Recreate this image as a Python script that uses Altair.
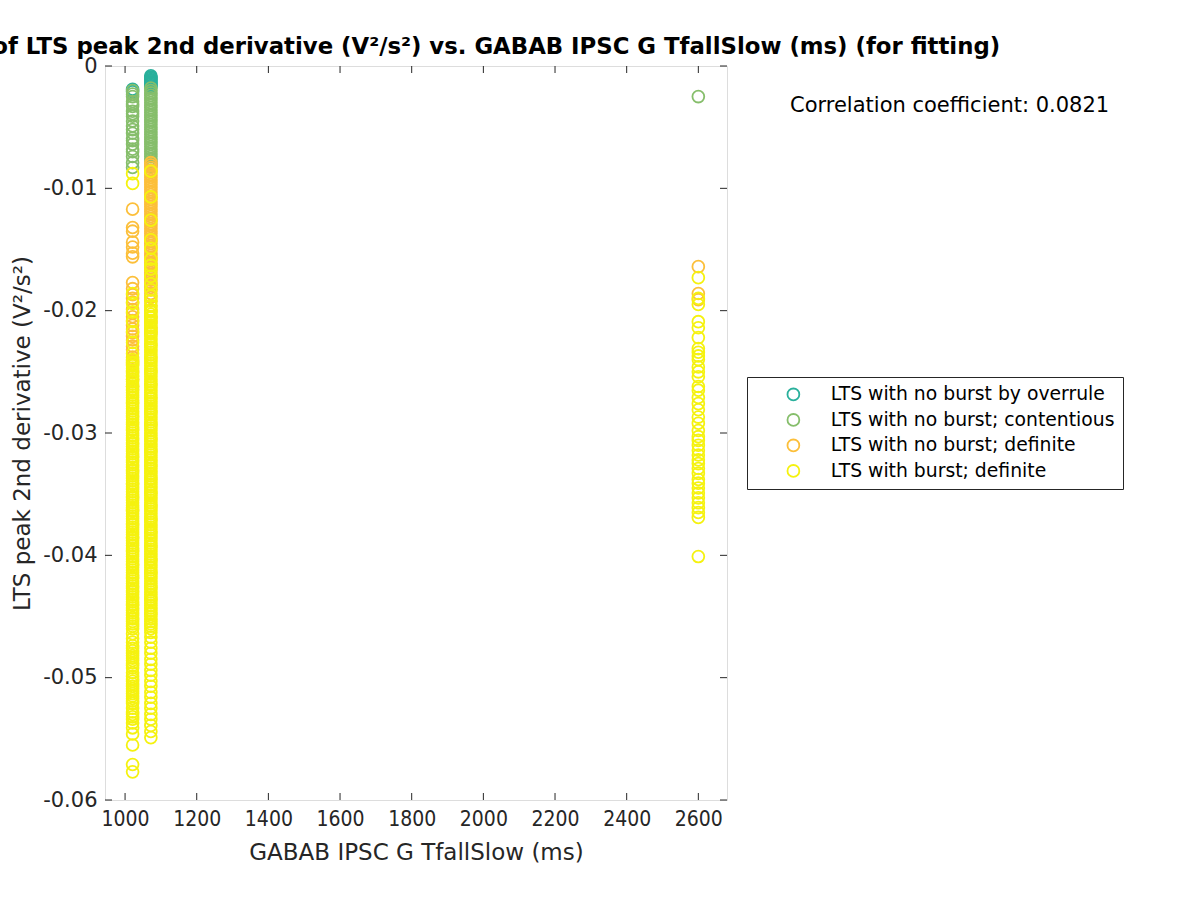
import altair as alt
import pandas as pd

# ---------------- data ----------------
series_names = [
    "LTS with no burst by overrule",
    "LTS with no burst; contentious",
    "LTS with no burst; definite",
    "LTS with burst; definite",
]
series_colors = ["#2ab09c", "#86be6b", "#fcbf3a", "#f5f20f"]

x_groups = [1021, 1072, 2600]

overrule_1021 = [-0.0019, -0.0021]
overrule_1072 = [-0.0008, -0.0009, -0.0010, -0.0011, -0.0012, -0.0013, -0.0014,
                 -0.0015, -0.0016, -0.0017]

contentious_1021 = [-0.0020, -0.0023, -0.0025, -0.0029, -0.0031, -0.0033, -0.0037,
                    -0.0039, -0.0041, -0.0045, -0.0049, -0.0052, -0.0055, -0.0059,
                    -0.0061, -0.0064, -0.0068, -0.0070, -0.0074, -0.0079, -0.0083]
contentious_1072 = [-0.0018, -0.0020, -0.0022, -0.0024, -0.0026, -0.0028, -0.0030,
                    -0.0032, -0.0034, -0.0036, -0.0038, -0.0040, -0.0042, -0.0044,
                    -0.0046, -0.0048, -0.0050, -0.0052, -0.0054, -0.0056, -0.0058,
                    -0.0060, -0.0062, -0.0064, -0.0066, -0.0068, -0.0070, -0.0072,
                    -0.0074, -0.0076, -0.0078, -0.0080, -0.0082]
contentious_2600 = [-0.0025]

nobursts_1021 = [-0.0117, -0.0132, -0.0135, -0.0144, -0.0148, -0.0153, -0.0156,
                 -0.0177, -0.0182, -0.0187, -0.0190, -0.0193, -0.0199, -0.0202,
                 -0.0205, -0.0208, -0.0212, -0.0215, -0.0218, -0.0221, -0.0224,
                 -0.0229, -0.0232, -0.0238, -0.0241, -0.0244, -0.0250, -0.0256,
                 -0.0262]
nobursts_1072 = [-0.0079, -0.0081, -0.0083, -0.0085, -0.0087, -0.0089, -0.0091, -0.0093,
                 -0.0095, -0.0097, -0.0099, -0.0101, -0.0103, -0.0105, -0.0107, -0.0109,
                 -0.0111, -0.0113, -0.0115, -0.0117, -0.0119, -0.0121, -0.0123, -0.0125,
                 -0.0127, -0.0129, -0.0131, -0.0133, -0.0135, -0.0137, -0.0139, -0.0141,
                 -0.0143, -0.0145, -0.0147, -0.0149, -0.0151, -0.0153, -0.0155, -0.0157,
                 -0.0159, -0.0161, -0.0163, -0.0165, -0.0167, -0.0169, -0.0171, -0.0173,
                 -0.0175, -0.0177, -0.0179, -0.0181, -0.0183, -0.0186, -0.0189, -0.0192,
                 -0.0196, -0.0200, -0.0205, -0.0209, -0.0214, -0.0218]
nobursts_2600 = [-0.0164, -0.0186, -0.0191]

burst_1021 = [-0.0088, -0.0096, -0.0186, -0.0194, -0.0201, -0.0209, -0.0217, -0.0226,
              -0.0235,
              -0.0240, -0.0242, -0.0243, -0.0245, -0.0247, -0.0249, -0.0251, -0.0253,
              -0.0254, -0.0256, -0.0258, -0.0260, -0.0262, -0.0264, -0.0265, -0.0267,
              -0.0269, -0.0271, -0.0273, -0.0275, -0.0276, -0.0278, -0.0280, -0.0282,
              -0.0284, -0.0286, -0.0287, -0.0289, -0.0291, -0.0293, -0.0295, -0.0297,
              -0.0298, -0.0300, -0.0302, -0.0304, -0.0306, -0.0308, -0.0309, -0.0311,
              -0.0313, -0.0315, -0.0317, -0.0319, -0.0320, -0.0322, -0.0324, -0.0326,
              -0.0328, -0.0330, -0.0331, -0.0333, -0.0335, -0.0337, -0.0339, -0.0341,
              -0.0342, -0.0344, -0.0346, -0.0348, -0.0350, -0.0352, -0.0353, -0.0355,
              -0.0357, -0.0359, -0.0361, -0.0363, -0.0364, -0.0366, -0.0368, -0.0370,
              -0.0372, -0.0374, -0.0375, -0.0377, -0.0379, -0.0381, -0.0383, -0.0385,
              -0.0386, -0.0388, -0.0390, -0.0392, -0.0394, -0.0396, -0.0397, -0.0399,
              -0.0401, -0.0403, -0.0405, -0.0407, -0.0408, -0.0410, -0.0412, -0.0414,
              -0.0416, -0.0418, -0.0419, -0.0421, -0.0423, -0.0425, -0.0427, -0.0429,
              -0.0430, -0.0432, -0.0434, -0.0436, -0.0438, -0.0440, -0.0441, -0.0443,
              -0.0445, -0.0447, -0.0449, -0.0451, -0.0452, -0.0454, -0.0456, -0.0458,
              -0.0460, -0.0464, -0.0468, -0.0471, -0.0474, -0.0476, -0.0478, -0.0480,
              -0.0482, -0.0484, -0.0486, -0.0488, -0.0490, -0.0492, -0.0496, -0.0499,
              -0.0501, -0.0503, -0.0505, -0.0507, -0.0509, -0.0511, -0.0513, -0.0515,
              -0.0517, -0.0519, -0.0521, -0.0525, -0.0528, -0.0530, -0.0532, -0.0534,
              -0.0537, -0.0541, -0.0546, -0.0555, -0.0571, -0.0577]
burst_1072 = [-0.0086, -0.0107, -0.0126, -0.0142, -0.0149, -0.0158, -0.0163, -0.0166,
              -0.0172, -0.0178, -0.0183, -0.0188, -0.0192, -0.0196,
              -0.0199, -0.0201, -0.0203, -0.0205, -0.0206, -0.0208, -0.0210, -0.0212,
              -0.0214, -0.0216, -0.0217, -0.0219, -0.0221, -0.0223, -0.0225, -0.0227,
              -0.0228, -0.0230, -0.0232, -0.0234, -0.0236, -0.0238, -0.0239, -0.0241,
              -0.0243, -0.0245, -0.0247, -0.0249, -0.0250, -0.0252, -0.0254, -0.0256,
              -0.0258, -0.0260, -0.0261, -0.0263, -0.0265, -0.0267, -0.0269, -0.0271,
              -0.0272, -0.0274, -0.0276, -0.0278, -0.0280, -0.0282, -0.0283, -0.0285,
              -0.0287, -0.0289, -0.0291, -0.0293, -0.0294, -0.0296, -0.0298, -0.0300,
              -0.0302, -0.0304, -0.0305, -0.0307, -0.0309, -0.0311, -0.0313, -0.0315,
              -0.0316, -0.0318, -0.0320, -0.0322, -0.0324, -0.0326, -0.0327, -0.0329,
              -0.0331, -0.0333, -0.0335, -0.0337, -0.0338, -0.0340, -0.0342, -0.0344,
              -0.0346, -0.0348, -0.0349, -0.0351, -0.0353, -0.0355, -0.0357, -0.0359,
              -0.0360, -0.0362, -0.0364, -0.0366, -0.0368, -0.0370, -0.0371, -0.0373,
              -0.0375, -0.0377, -0.0379, -0.0381, -0.0382, -0.0384, -0.0386, -0.0388,
              -0.0390, -0.0392, -0.0393, -0.0395, -0.0397, -0.0399, -0.0401, -0.0403,
              -0.0404, -0.0406, -0.0408, -0.0410, -0.0412, -0.0414, -0.0415, -0.0417,
              -0.0419, -0.0421, -0.0423, -0.0425, -0.0426, -0.0428, -0.0430, -0.0432,
              -0.0434, -0.0436, -0.0437, -0.0439, -0.0441, -0.0443, -0.0445, -0.0447,
              -0.0448, -0.0450, -0.0452, -0.0454, -0.0456, -0.0458, -0.0460, -0.0463,
              -0.0467, -0.0471, -0.0476, -0.0480, -0.0485, -0.0489, -0.0494, -0.0498,
              -0.0503, -0.0507, -0.0512, -0.0516, -0.0521, -0.0525, -0.0530, -0.0534,
              -0.0539, -0.0544, -0.0549]
burst_2600 = [-0.0173, -0.0190, -0.0195, -0.0209, -0.0214, -0.0222, -0.0231, -0.0234,
              -0.0237, -0.0240, -0.0246, -0.0250, -0.0254, -0.0262, -0.0265, -0.0271,
              -0.0276, -0.0281, -0.0287, -0.0292, -0.0298, -0.0303, -0.0306, -0.0310,
              -0.0314, -0.0318, -0.0322, -0.0325, -0.0329, -0.0333, -0.0338, -0.0341,
              -0.0345, -0.0349, -0.0353, -0.0357, -0.0361, -0.0365, -0.0369, -0.0401]

x_ticks = [1000, 1200, 1400, 1600, 1800, 2000, 2200, 2400, 2600]
y_ticks = [0, -0.01, -0.02, -0.03, -0.04, -0.05, -0.06]
x_domain = [944, 2680]
y_domain = [-0.06, 0]

corr_label = "Correlation coefficient: 0.0821"
title_text = ("Scatter plot of LTS peak 2nd derivative (V²/s²) vs. "
              "GABAB IPSC G TfallSlow (ms) (for fitting)")
x_title = "GABAB IPSC G TfallSlow (ms)"
y_title = "LTS peak 2nd derivative (V²/s²)"

groups = [
    (series_names[0], x_groups[0], overrule_1021),
    (series_names[0], x_groups[1], overrule_1072),
    (series_names[1], x_groups[0], contentious_1021),
    (series_names[1], x_groups[1], contentious_1072),
    (series_names[1], x_groups[2], contentious_2600),
    (series_names[2], x_groups[0], nobursts_1021),
    (series_names[2], x_groups[1], nobursts_1072),
    (series_names[2], x_groups[2], nobursts_2600),
    (series_names[3], x_groups[0], burst_1021),
    (series_names[3], x_groups[1], burst_1072),
    (series_names[3], x_groups[2], burst_2600),
]
rows = []
for name, xv, ys in groups:
    for yv in ys:
        rows.append({"series": name, "x": xv, "y": yv})
df = pd.DataFrame(rows)

W, H = 622, 734
AX = "#262626"
FONT = "DejaVu Sans"

xscale = alt.Scale(domain=x_domain, nice=False, zero=False)
yscale = alt.Scale(domain=y_domain, nice=False, zero=False)

x_axis = alt.Axis(
    values=x_ticks, ticks=False, domain=False, grid=False, format="d",
    labelFontSize=21, labelFont="DejaVu Sans Condensed", labelColor=AX,
    labelPadding=8, labelOverlap=False, labelFlush=False,
    title=x_title, titleFontSize=23, titleFontWeight="normal",
    titleColor=AX, titleFont=FONT, titlePadding=12)
y_axis = alt.Axis(
    values=y_ticks, ticks=False, domain=False, grid=False,
    labelExpr="datum.value == 0 ? '0' : '-' + format(-datum.value, '.2f')",
    labelFontSize=21, labelFont=FONT, labelColor=AX, labelPadding=8,
    labelOverlap=False, labelFlush=False,
    title=y_title, titleFontSize=23, titleFontWeight="normal",
    titleColor=AX, titleFont=FONT, titlePadding=8)

points = alt.Chart(df).mark_point(
    filled=False, shape="circle", size=140, strokeWidth=1.8, opacity=1
).encode(
    x=alt.X("x:Q", scale=xscale, axis=x_axis),
    y=alt.Y("y:Q", scale=yscale, axis=y_axis),
    color=alt.Color("series:N", sort=series_names,
                    scale=alt.Scale(domain=series_names, range=series_colors),
                    legend=alt.Legend(
                        title=None, orient="none", legendX=642, legendY=311,
                        strokeColor="#262626", fillColor="white", padding=8,
                        labelFontSize=18.8, labelFont=FONT, labelColor="black",
                        labelLimit=500, symbolSize=140, symbolStrokeWidth=1.8,
                        symbolType="circle", symbolOffset=29, labelOffset=28,
                        rowPadding=4.5)),
)

ytick_df = pd.DataFrame({"y": y_ticks})
xtick_df = pd.DataFrame({"x": x_ticks})

y_left = alt.Chart(ytick_df).mark_rule(color=AX, strokeWidth=1).encode(
    y=alt.Y("y:Q", scale=yscale, axis=y_axis), x=alt.value(0), x2=alt.value(7))
y_right = alt.Chart(ytick_df).mark_rule(color=AX, strokeWidth=1).encode(
    y=alt.Y("y:Q", scale=yscale, axis=y_axis), x=alt.value(W - 7), x2=alt.value(W))
x_bottom = alt.Chart(xtick_df).mark_rule(color=AX, strokeWidth=1).encode(
    x=alt.X("x:Q", scale=xscale, axis=x_axis), y=alt.value(H - 7), y2=alt.value(H))
x_top = alt.Chart(xtick_df).mark_rule(color=AX, strokeWidth=1).encode(
    x=alt.X("x:Q", scale=xscale, axis=x_axis), y=alt.value(0), y2=alt.value(7))

corr = alt.Chart(pd.DataFrame({"t": [corr_label]})).mark_text(
    align="left", baseline="middle", fontSize=21, font=FONT, color="black"
).encode(text="t:N", x=alt.value(685), y=alt.value(40))

chart = alt.layer(y_left, y_right, x_bottom, x_top, points, corr).properties(
    width=W, height=H,
    title=alt.TitleParams(text=title_text, fontSize=22.8, fontWeight="bold",
                          font=FONT, color="black", anchor="middle", offset=6,
                          dy=10),
    padding={"left": 105, "top": 66, "right": 473, "bottom": 100},
    autosize=alt.AutoSizeParams(type="none"),
).configure_view(stroke=AX, strokeWidth=1).configure(font=FONT)

chart.save("out.html", embed_options={"renderer": "svg", "actions": False})
